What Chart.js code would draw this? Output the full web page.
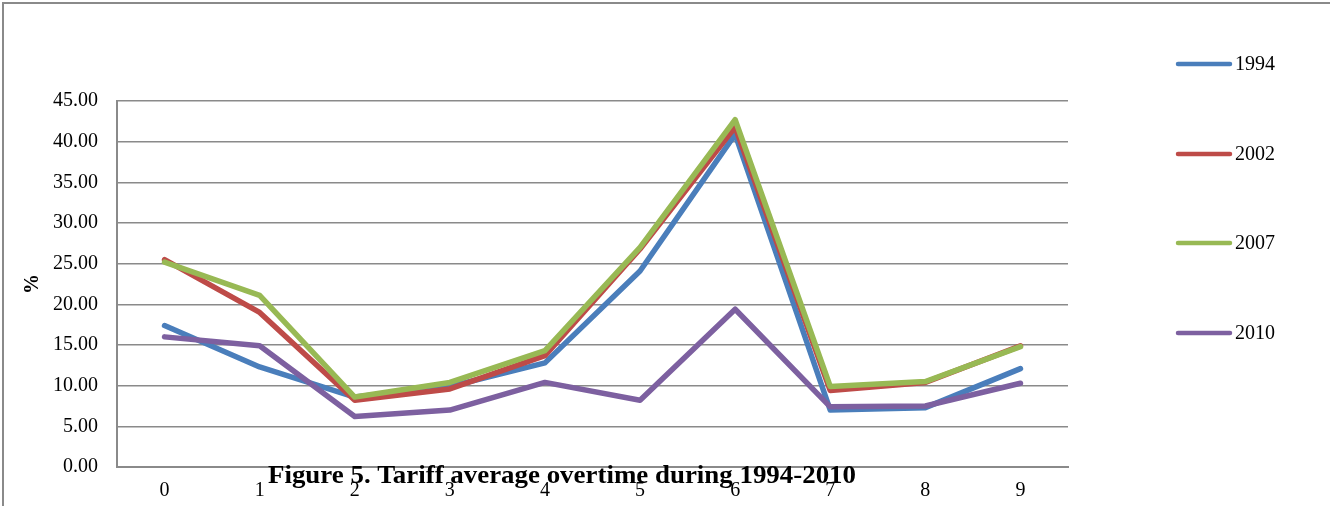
<!DOCTYPE html>
<html>
<head>
<meta charset="utf-8">
<script src="https://cdn.jsdelivr.net/npm/chart.js@4/dist/chart.umd.min.js"></script>
<style>
html,body{margin:0;padding:0;background:#fff;}
#wrap{width:1330px;height:506px;position:relative;}
</style>
</head>
<body>
<div id="wrap"><canvas id="c" width="1330" height="506"></canvas></div>
<script>
const categories = ["0","1","2","3","4","5","6","7","8","9"];
const seriesNames = ["1994","2002","2007","2010"];
const s1994 = [17.4, 12.3, 8.6, 9.9, 12.8, 24.1, 40.9, 7.0, 7.3, 12.1];
const s2002 = [25.5, 19.0, 8.2, 9.6, 13.7, 26.8, 41.8, 9.4, 10.4, 14.9];
const s2007 = [25.2, 21.1, 8.6, 10.4, 14.3, 27.0, 42.7, 9.9, 10.5, 14.8];
const s2010 = [16.0, 14.9, 6.2, 7.0, 10.4, 8.2, 19.4, 7.4, 7.5, 10.3];
const yTicks = [0, 5, 10, 15, 20, 25, 30, 35, 40, 45];
const titleText = "Figure 5. Tariff average overtime during 1994-2010";
const yTitle = "%";

const colors = ["#4A7EBB", "#BE4B48", "#98B954", "#7D60A0"];
const serif = '"Liberation Serif", "Times New Roman", serif';
const allSeries = [s1994, s2002, s2007, s2010];

const datasets = allSeries.map((d, i) => ({
  label: seriesNames[i],
  data: d,
  borderColor: colors[i],
  backgroundColor: colors[i],
  borderWidth: 5.5,
  pointRadius: 0,
  pointHoverRadius: 0,
  tension: 0,
  fill: false,
  borderJoinStyle: 'round',
  borderCapStyle: 'round',
  order: 3 - i
}));

const extras = {
  id: 'extras',
  afterDraw(chart) {
    const ctx = chart.ctx;
    ctx.save();
    // outer frame (left and top only visible)
    ctx.strokeStyle = '#8a8a8a';
    ctx.lineWidth = 2;
    ctx.beginPath();
    ctx.moveTo(3, 506);
    ctx.lineTo(3, 3);
    ctx.lineTo(1330, 3);
    ctx.stroke();
    // legend
    const rows = [64, 154, 243, 333];
    ctx.font = '20px ' + serif;
    ctx.textBaseline = 'middle';
    ctx.textAlign = 'left';
    seriesNames.forEach((n, i) => {
      ctx.strokeStyle = colors[i];
      ctx.lineWidth = 4.5;
      ctx.lineCap = 'round';
      ctx.beginPath();
      ctx.moveTo(1178, rows[i]);
      ctx.lineTo(1230, rows[i]);
      ctx.stroke();
      ctx.fillStyle = '#000';
      ctx.fillText(n, 1235, rows[i] + 1);
    });
    // y title
    ctx.save();
    ctx.translate(33, 284);
    ctx.rotate(-Math.PI / 2);
    ctx.font = 'bold 20px ' + serif;
    ctx.textAlign = 'center';
    ctx.textBaseline = 'middle';
    ctx.fillStyle = '#000';
    ctx.fillText(yTitle, 0, 0);
    ctx.restore();
    // figure caption overlapping the axis
    ctx.save();
    ctx.font = 'bold 26px ' + serif;
    const w = ctx.measureText(titleText).width;
    const targetW = 588;
    ctx.translate(562, 483);
    ctx.scale(targetW / w, 1);
    ctx.textAlign = 'center';
    ctx.textBaseline = 'alphabetic';
    ctx.fillStyle = '#000';
    ctx.fillText(titleText, 0, 0);
    ctx.restore();
    ctx.restore();
  }
};

new Chart(document.getElementById('c'), {
  type: 'line',
  data: { labels: categories, datasets },
  options: {
    responsive: false,
    animation: false,
    events: [],
    layout: { padding: { left: 0, right: 262, top: 101, bottom: 0 } },
    plugins: { legend: { display: false }, tooltip: { enabled: false }, title: { display: false } },
    scales: {
      x: {
        offset: true,
        grid: { display: false, drawTicks: false },
        border: { display: true, color: '#8a8a8a', width: 2 },
        ticks: { color: '#000', font: { family: serif, size: 20 }, padding: 12, maxRotation: 0 },
        afterFit(s) { s.height = 506 - 467; }
      },
      y: {
        min: 0, max: 45,
        afterBuildTicks(s) { s.ticks = yTicks.map(v => ({ value: v })); },
        grid: { color: '#8a8a8a', lineWidth: 1.6, drawTicks: false },
        border: { display: true, color: '#8a8a8a', width: 2 },
        ticks: {
          color: '#000', font: { family: serif, size: 20 }, padding: 19,
          callback: v => Number(v).toFixed(2)
        },
        afterFit(s) { s.width = 117; }
      }
    }
  },
  plugins: [extras]
});
</script>
</body>
</html>
